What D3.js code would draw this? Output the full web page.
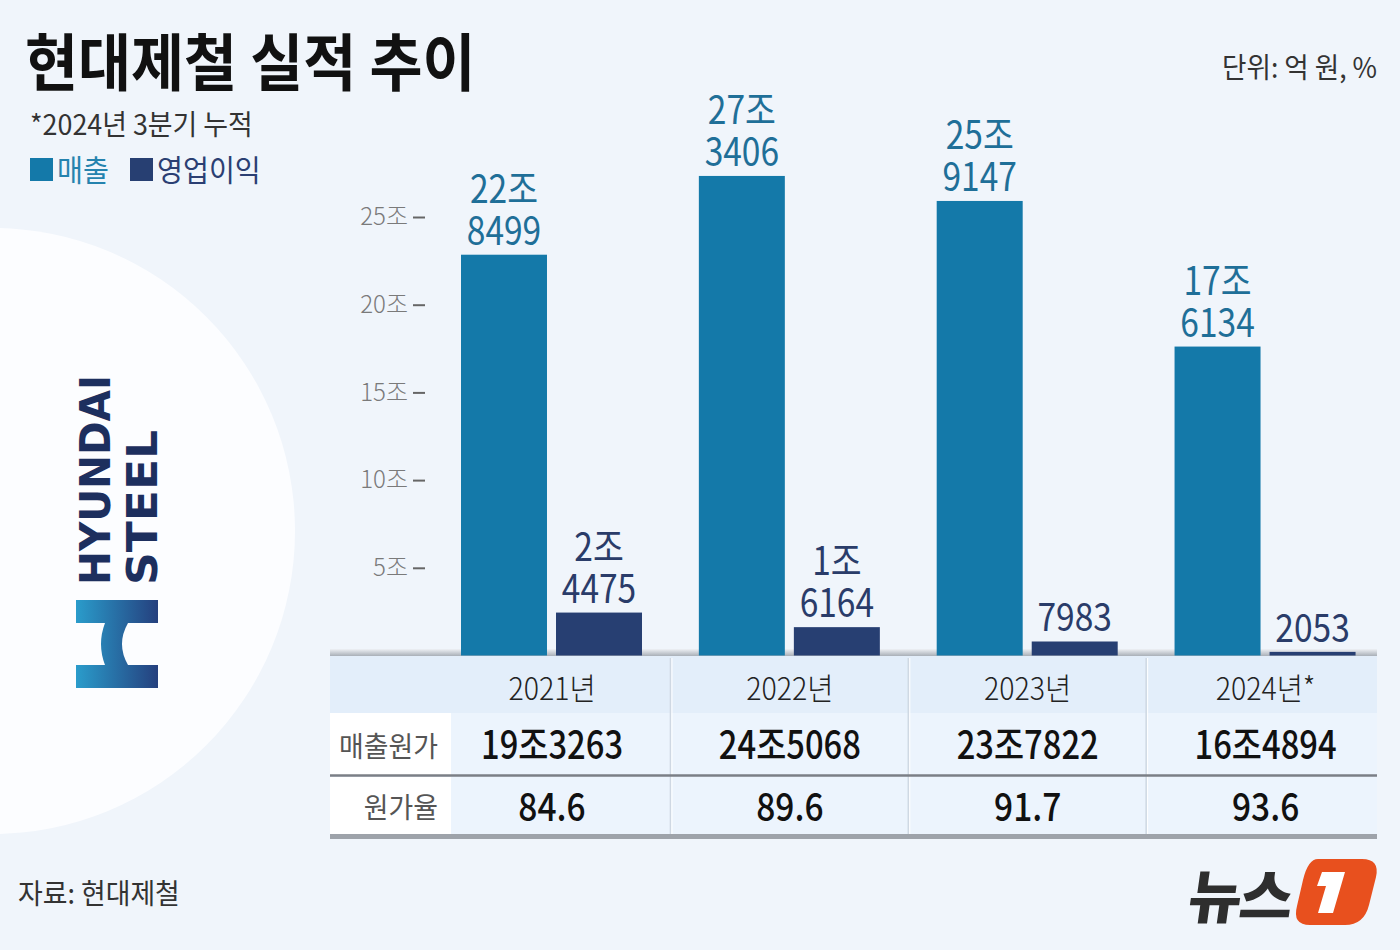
<!DOCTYPE html>
<html><head><meta charset="utf-8">
<script src="https://cdn.jsdelivr.net/npm/d3@7"></script>
<style>
html,body{margin:0;padding:0;background:#f0f5fb;}
svg{display:block;font-family:"Noto Sans CJK KR","Noto Sans",sans-serif;}
</style></head>
<body>
<svg id="c" width="1400" height="950"></svg>
<script>
// ---- data (억 원, %) ----
const years = ["2021년", "2022년", "2023년", "2024년*"];
const sales = [228499, 273406, 259147, 176134];
const opProfit = [24475, 16164, 7983, 2053];
const costOfSales = [193263, 245068, 237822, 164894];
const costRatio = [84.6, 89.6, 91.7, 93.6];
const yTicks = [50000, 100000, 150000, 200000, 250000];
const seriesNames = ["매출", "영업이익"];
const rowLabels = ["매출원가", "원가율"];

const C_SALES = "#1479a9", C_OP = "#273f72";
const svg = d3.select("#c");

function jo(v) {
  const t = Math.floor(v / 10000), r = v % 10000;
  return t > 0 ? [t + "조", String(r).padStart(4, "0")] : [String(r)];
}
function ctext(g, x, y, str, o) {
  o = o || {};
  const t = g.append("text")
    .attr("transform", `translate(${x},${y}) scale(${o.sx || 1},1)`)
    .attr("text-anchor", o.anchor || "start")
    .attr("font-size", o.size || 28)
    .attr("font-weight", o.weight || 400)
    .attr("fill", o.fill || "#222")
    .text(str);
  return t;
}

// background
svg.append("rect").attr("width", 1400).attr("height", 950).attr("fill", "#f0f5fb");
svg.append("circle").attr("cx", -8).attr("cy", 531).attr("r", 303).attr("fill", "#fcfdff");

// title etc
ctext(svg, 25, 86, "현대제철 실적 추이", {size: 62, weight: 700, fill: "#111", sx: 0.93});
ctext(svg, 30, 135, "*2024년 3분기 누적", {size: 28, weight: 400, fill: "#333", sx: 0.96});
ctext(svg, 1377, 78, "단위: 억 원, %", {size: 28, fill: "#333", anchor: "end", sx: 0.95});
ctext(svg, 18, 904, "자료: 현대제철", {size: 28, fill: "#333", sx: 0.96});

// legend
const legX = [30, 130], legC = [C_SALES, C_OP], legT = ["#2583ae", "#2b3f73"];
seriesNames.forEach((n, i) => {
  svg.append("rect").attr("x", legX[i]).attr("y", 158).attr("width", 23).attr("height", 23).attr("fill", legC[i]);
  ctext(svg, legX[i] + 27, 181, n, {size: 30, fill: legT[i], sx: 0.94});
});

// logo
const lg = svg.append("g");
const grad = svg.append("defs").append("linearGradient").attr("id", "hg").attr("x1", 0).attr("x2", 1).attr("y1", 0).attr("y2", 0);
grad.append("stop").attr("offset", 0).attr("stop-color", "#2a9ccb");
grad.append("stop").attr("offset", 1).attr("stop-color", "#25407e");
lg.append("path").attr("fill", "url(#hg)")
  .attr("d", "M76,600 H158 V623 H128 Q116,644 128,665 H158 V688 H76 V665 H105 Q97,644 105,623 H76 Z");
lg.append("text").attr("transform", "translate(110,585) rotate(-90)")
  .attr("font-family", "DejaVu Sans").attr("font-weight", 700).attr("font-size", 43)
  .attr("fill", "#1d2f5e").attr("textLength", 210).attr("lengthAdjust", "spacingAndGlyphs").text("HYUNDAI");
lg.append("text").attr("transform", "translate(157,585) rotate(-90)")
  .attr("font-family", "DejaVu Sans").attr("font-weight", 700).attr("font-size", 43)
  .attr("fill", "#1d2f5e").attr("textLength", 155).attr("lengthAdjust", "spacingAndGlyphs").text("STEEL");

// scales
const y = d3.scaleLinear().domain([0, 300000]).range([655.5, 129.3]);
const x0 = d3.scaleBand().domain(years).range([432.6, 1384]).padding(0);
const x1 = d3.scaleBand().domain(seriesNames).range([28.4, 209.4]).paddingInner(0.095);

// y axis
const ax = svg.append("g").attr("transform", "translate(425,0)")
  .call(d3.axisLeft(y).tickValues(yTicks).tickSize(12).tickPadding(5).tickFormat(d => (d / 10000) + "조"));
ax.select(".domain").remove();
ax.selectAll(".tick line").attr("stroke", "#666").attr("stroke-width", 2);
ax.selectAll(".tick text").attr("font-size", 24).attr("fill", "#7a7a7a")
  .attr("font-family", "Noto Sans CJK KR").attr("font-weight", 300);

// baseline shade
const bg = svg.append("defs").append("linearGradient").attr("id", "bs").attr("x1", 0).attr("x2", 0).attr("y1", 0).attr("y2", 1);
bg.append("stop").attr("offset", 0).attr("stop-color", "#eef1f5");
bg.append("stop").attr("offset", 1).attr("stop-color", "#a9afb7");
svg.append("rect").attr("x", 330).attr("y", 649).attr("width", 1047).attr("height", 7).attr("fill", "url(#bs)");

// bars
const groups = svg.append("g").selectAll("g").data(years).join("g")
  .attr("transform", d => `translate(${x0(d)},0)`);
const vals = [sales, opProfit], cols = [C_SALES, C_OP], lcols = ["#1f6f98", "#2a3c69"];
years.forEach((yr, i) => {
  const g = groups.filter(d => d === yr);
  seriesNames.forEach((s, j) => {
    const v = vals[j][i];
    g.append("rect").attr("x", x1(s)).attr("width", x1.bandwidth())
      .attr("y", y(v)).attr("height", y(0) - y(v)).attr("fill", cols[j]);
    const lines = jo(v);
    const cx = x1(s) + x1.bandwidth() / 2;
    const top = y(v) - 10 - (lines.length - 1) * 42;
    const t = g.append("text")
      .attr("transform", `translate(${cx},${top}) scale(0.86,1)`)
      .attr("text-anchor", "middle").attr("font-size", 39).attr("font-weight", 400)
      .attr("fill", lcols[j]);
    lines.forEach((ln, k) => t.append("tspan").attr("x", 0).attr("y", k * 42).text(ln));
  });
});

// table
const tb = svg.append("g");
const tL = 330, tR = 1377;
tb.append("rect").attr("x", tL).attr("y", 656).attr("width", tR - tL).attr("height", 57).attr("fill", "#e3eefa");
tb.append("rect").attr("x", tL).attr("y", 713).attr("width", tR - tL).attr("height", 123).attr("fill", "#ecf4fd");
tb.append("rect").attr("x", tL).attr("y", 713).attr("width", 121).attr("height", 62).attr("fill", "#ffffff");
tb.append("rect").attr("x", tL).attr("y", 777).attr("width", 121).attr("height", 58).attr("fill", "#ffffff");
// separators
years.slice(1).forEach(yr => {
  tb.append("line").attr("x1", x0(yr)).attr("x2", x0(yr)).attr("y1", 658).attr("y2", 834)
    .attr("stroke", "#cfd8e3").attr("stroke-width", 1.5);
  tb.append("line").attr("x1", x0(yr) + 1.5).attr("x2", x0(yr) + 1.5).attr("y1", 658).attr("y2", 834)
    .attr("stroke", "#ffffff").attr("stroke-width", 1);
});
tb.append("line").attr("x1", tL).attr("x2", tR).attr("y1", 775.5).attr("y2", 775.5).attr("stroke", "#7b7f86").attr("stroke-width", 2.5);
tb.append("rect").attr("x", tL).attr("y", 834).attr("width", tR - tL).attr("height", 5).attr("fill", "#9ea3aa");

years.forEach((yr, i) => {
  const cx = x0(yr) + x0.bandwidth() / 2 + 0.5;
  ctext(tb, cx, 700, yr, {size: 31, weight: 300, fill: "#222", anchor: "middle", sx: 0.92});
  ctext(tb, cx, 759, jo(costOfSales[i]).join(""), {size: 39, weight: 500, fill: "#111", anchor: "middle", sx: 0.84});
  ctext(tb, cx, 821, costRatio[i].toFixed(1), {size: 39, weight: 500, fill: "#111", anchor: "middle", sx: 0.86});
});
ctext(tb, 438, 757, rowLabels[0], {size: 28, fill: "#555", anchor: "end", sx: 0.96});
ctext(tb, 438, 818, rowLabels[1], {size: 28, fill: "#555", anchor: "end", sx: 0.96});

// news1 logo
const nl = svg.append("g");
nl.append("text").attr("transform", "translate(1186,918) skewX(-8)")
  .attr("font-size", 58).attr("font-weight", 900).attr("fill", "#2e2e2e").attr("letter-spacing", -2).text("뉴스");
nl.append("path").attr("fill", "#e8501e")
  .attr("d", "M1318,859 H1362 Q1380,859 1376,877 L1369,905 Q1364,925 1345,925 H1310 Q1292,925 1297,906 L1303,880 Q1308,859 1318,859 Z");
nl.append("path").attr("fill", "#ffffff")
  .attr("d", "M1322,872 H1345 L1333,913 H1318 L1326,886 H1317 Z");
</script>
</body></html>
